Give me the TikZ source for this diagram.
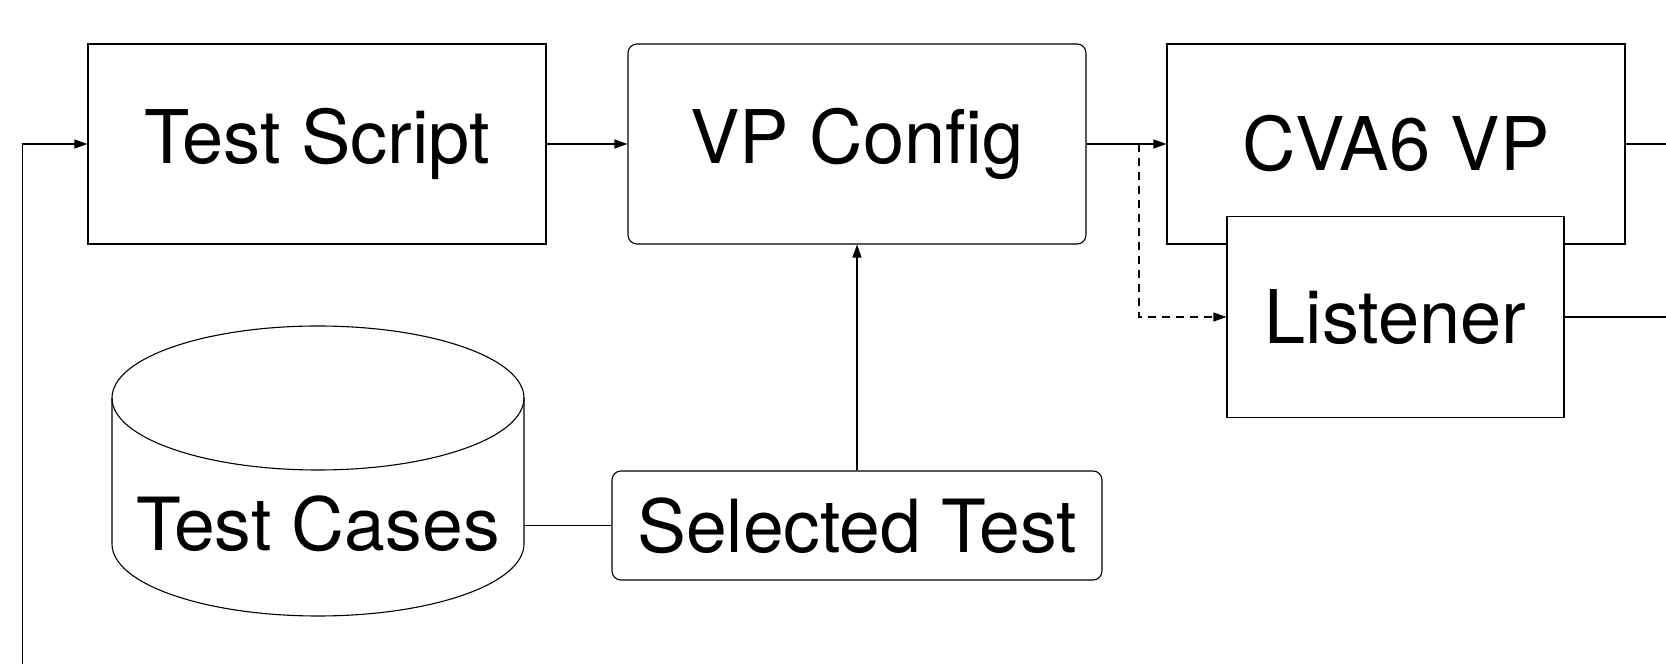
\documentclass[tikz,border=0pt]{standalone}
\usepackage{fontspec}
\setmainfont{TeX Gyre Heros}
\usetikzlibrary{arrows.meta}
\begin{document}
\begin{tikzpicture}[x=1pt,y=1pt, line width=1.1pt,
 box/.style={draw, rectangle, inner sep=0pt, fill=white, font=\fontsize{74}{80}\selectfont},
 rbox/.style={box, rounded corners=9pt},
 arr/.style={-{Triangle[length=13pt,width=9pt]}},
 dsh/.style={dash pattern=on 8pt off 6pt}]
\useasboundingbox (0,0) rectangle (1666,664);
% nodes
\node[box, minimum width=458pt, minimum height=200pt] (ts) at (317,520) {Test Script};
\node[rbox, minimum width=458pt, minimum height=200pt] (vp) at (857,520) {VP Config};
\node[box, minimum width=458pt, minimum height=200pt] (cva) at (1396,520) {CVA6 VP};
\node[box, minimum width=337pt, minimum height=201pt] (lis) at (1395.5,347) {Listener};
\node[rbox, minimum width=490pt, minimum height=109pt, font=\fontsize{73.3}{80}\selectfont] (sel) at (857,138.5) {Selected Test};
% cylinder
\draw (112,266) -- (112,120) arc[start angle=180, end angle=360, x radius=206, y radius=72] -- (524,266);
\draw (318,266) ellipse [x radius=206, y radius=72];
\node[font=\fontsize{73.3}{80}\selectfont, inner sep=0pt] (tcases) at (318,140) {Test Cases};
\coordinate (tc) at (524,138.5);
% coordinates
\coordinate (split) at (1139,520);
\coordinate (loopstart) at (22.5,0);
\coordinate (outa) at (1666,520);
\coordinate (outb) at (1666,347);
% connectors
\draw[arr] (loopstart) |- (ts.west);
\draw[arr] (ts.east) -- (vp.west);
\draw[arr] (vp.east) -- (cva.west);
\draw[dsh] (vp.east) -- (split);
\draw[dsh, arr] (split) |- (lis.west);
\draw[arr] (sel.north) -- (vp.south);
\draw (tc) -- (sel.west);
\draw (cva.east) -- (outa);
\draw (lis.east) -- (outb);
\end{tikzpicture}
\end{document}
